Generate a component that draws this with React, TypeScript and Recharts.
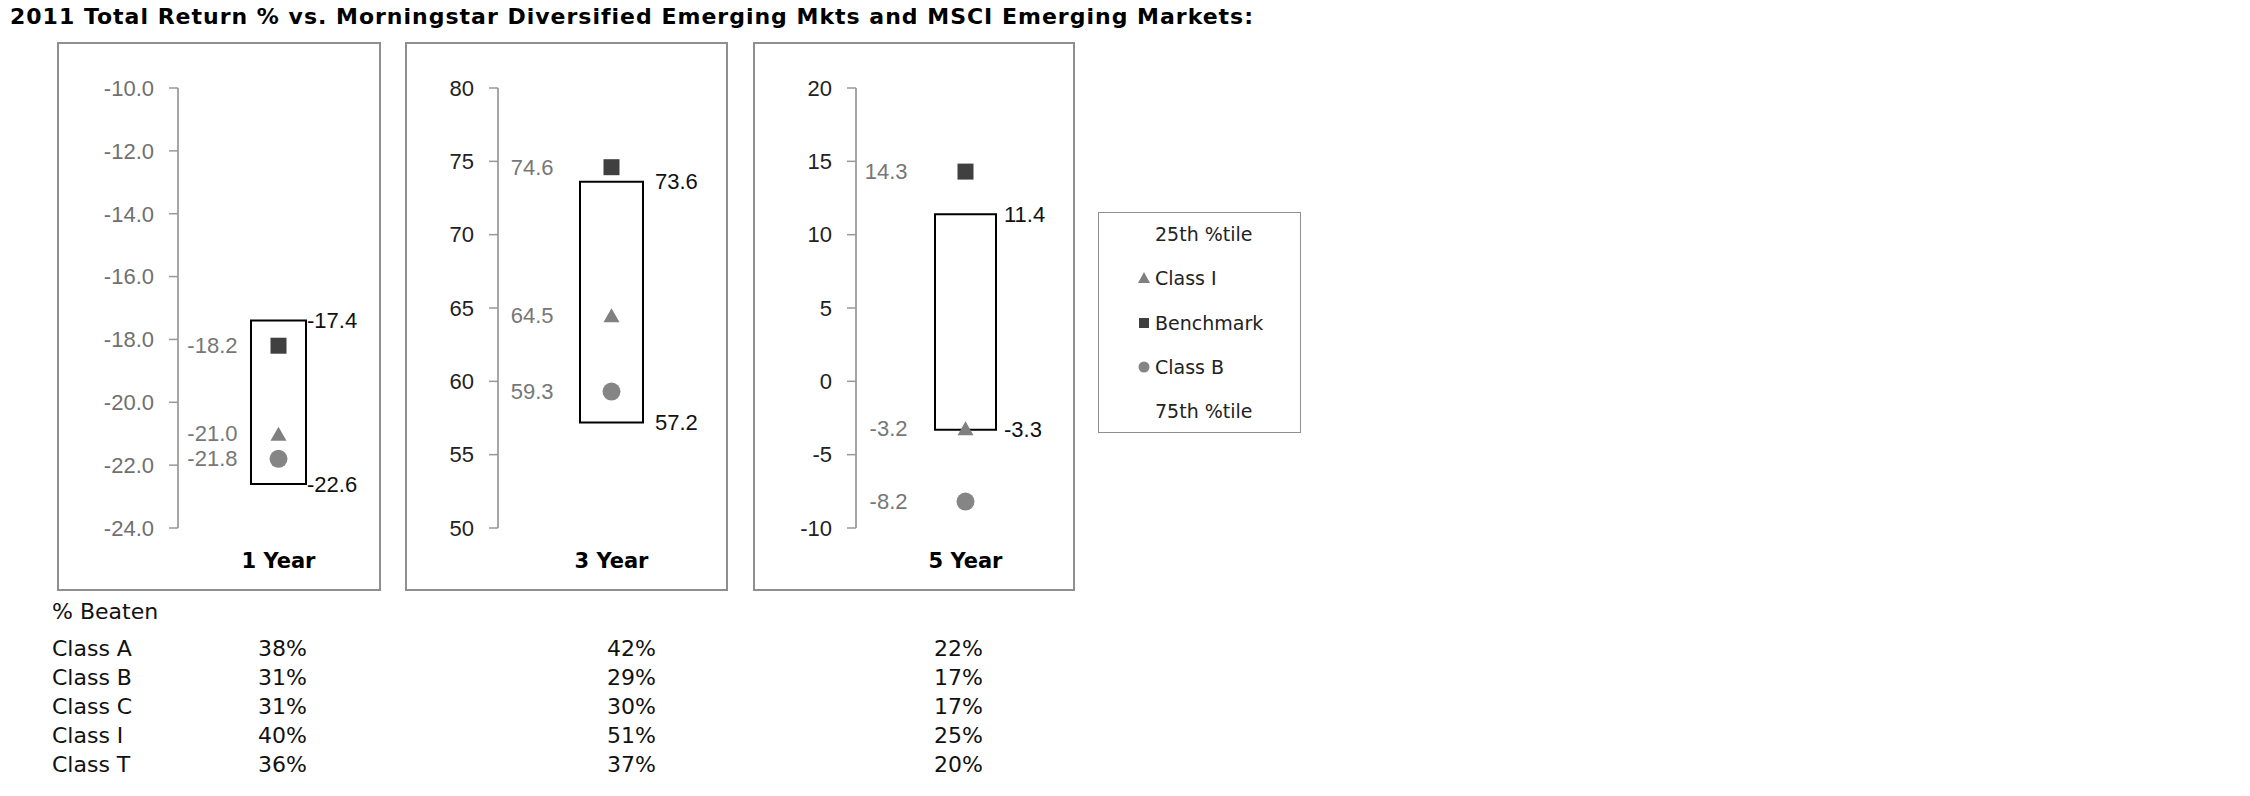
import React from 'react';
import { ComposedChart, Bar, Scatter, XAxis, YAxis, LabelList } from 'recharts';

// values
const periods = ['1 Year', '3 Year', '5 Year'];
const pct25 = [-17.4, 73.6, 11.4];
const pct75 = [-22.6, 57.2, -3.3];
const classI = [-21.0, 64.5, -3.2];
const benchmark = [-18.2, 74.6, 14.3];
const classB = [-21.8, 59.3, -8.2];
const yDomains: [number, number][] = [[-24, -10], [50, 80], [-10, 20]];
const yTicks = [
  [-24, -22, -20, -18, -16, -14, -12, -10],
  [50, 55, 60, 65, 70, 75, 80],
  [-10, -5, 0, 5, 10, 15, 20],
];
const tickDecimals = [1, 0, 0];

const shareClasses = ['Class A', 'Class B', 'Class C', 'Class I', 'Class T'];
const beaten1 = ['38%', '31%', '31%', '40%', '36%'];
const beaten3 = ['42%', '29%', '30%', '51%', '37%'];
const beaten5 = ['22%', '17%', '17%', '25%', '20%'];

const legendItems = ['25th %tile', 'Class I', 'Benchmark', 'Class B', '75th %tile'];

const TITLE = '2011 Total Return % vs. Morningstar Diversified Emerging Mkts and MSCI Emerging Markets:';

const NUM_FONT = '"Liberation Sans", Arial, sans-serif';
const NUM_SIZE = 22;
const VERDANA = '"DejaVu Sans", Verdana, sans-serif';

const PANEL_TOP = 42;
const PANEL_H = 549;
const panels = [
  { left: 57, width: 324, axisW: 121, right: 2, barSize: 55, labelGap: 41, edgeGap: 1, tickColor: '#707070' },
  { left: 405, width: 323, axisW: 93, right: 3, barSize: 63, labelGap: 58, edgeGap: 12, tickColor: '#222' },
  { left: 753, width: 322, axisW: 103, right: 0, barSize: 61, labelGap: 58, edgeGap: 8, tickColor: '#222' },
];

const SquareDot = (p: any) => (
  <rect x={p.cx - 8} y={p.cy - 8} width={16} height={16} fill="#404040" />
);
const TriangleDot = (p: any) => (
  <polygon
    points={`${p.cx},${p.cy - 7} ${p.cx + 8},${p.cy + 7} ${p.cx - 8},${p.cy + 7}`}
    fill="#808080"
  />
);
const CircleDot = (p: any) => <circle cx={p.cx} cy={p.cy} r={9} fill="#858585" />;

const CategoryTick = ({ x, y, payload }: any) => (
  <text
    x={x}
    y={y + 33}
    textAnchor="middle"
    dominantBaseline="central"
    fontFamily={VERDANA}
    fontWeight="bold"
    fontSize={21}
    fill="#000"
  >
    {payload.value}
  </text>
);

function Panel({ i }: { i: number }) {
  const p = panels[i];
  const data = [
    {
      period: periods[i],
      range: [pct75[i], pct25[i]],
      classI: classI[i],
      benchmark: benchmark[i],
      classB: classB[i],
    },
  ];

  const leftLabel = (props: any) => {
    const x = Number(props.x);
    const y = Number(props.y);
    const w = Number(props.width) || 0;
    const h = Number(props.height) || 0;
    return (
      <text
        x={x + w / 2 - p.labelGap}
        y={y + h / 2}
        textAnchor="end"
        dominantBaseline="central"
        fill="#777"
        fontSize={NUM_SIZE}
        fontFamily={NUM_FONT}
      >
        {Number(props.value).toFixed(1)}
      </text>
    );
  };

  const rangeLabels = (props: any) => {
    const x = Number(props.x);
    const y = Number(props.y);
    const w = Number(props.width);
    const h = Number(props.height);
    const top = Math.min(y, y + h);
    const bottom = Math.max(y, y + h);
    const tx = x + w + p.edgeGap;
    const common = {
      x: tx,
      textAnchor: 'start' as const,
      dominantBaseline: 'central' as const,
      fill: '#111',
      fontSize: NUM_SIZE,
      fontFamily: NUM_FONT,
    };
    return (
      <g>
        <text {...common} y={top}>{pct25[i].toFixed(1)}</text>
        <text {...common} y={bottom}>{pct75[i].toFixed(1)}</text>
      </g>
    );
  };

  return (
    <div style={{ position: 'absolute', left: p.left, top: PANEL_TOP, width: p.width, height: PANEL_H }}>
      <ComposedChart
        width={p.width}
        height={PANEL_H}
        data={data}
        margin={{ top: 46, right: p.right, bottom: 0, left: 0 }}
      >
        <XAxis
          dataKey="period"
          type="category"
          axisLine={false}
          tickLine={false}
          tickSize={0}
          tickMargin={0}
          height={63}
          tick={<CategoryTick />}
        />
        <YAxis
          type="number"
          domain={yDomains[i]}
          ticks={yTicks[i]}
          interval={0}
          allowDataOverflow
          width={p.axisW}
          tickSize={9}
          tickMargin={15}
          tickFormatter={(v: number) => v.toFixed(tickDecimals[i])}
          axisLine={{ stroke: '#888', strokeWidth: 1.5 }}
          tickLine={{ stroke: '#999', strokeWidth: 1.5 }}
          tick={{ fill: p.tickColor, fontSize: NUM_SIZE, fontFamily: NUM_FONT }}
        />
        <Bar
          dataKey="range"
          fill="#fff"
          stroke="#000"
          strokeWidth={2}
          barSize={p.barSize}
          isAnimationActive={false}
        >
          <LabelList dataKey="range" content={rangeLabels} />
        </Bar>
        <Scatter dataKey="benchmark" shape={SquareDot} isAnimationActive={false}>
          <LabelList dataKey="benchmark" content={leftLabel} />
        </Scatter>
        <Scatter dataKey="classI" shape={TriangleDot} isAnimationActive={false}>
          <LabelList dataKey="classI" content={leftLabel} />
        </Scatter>
        <Scatter dataKey="classB" shape={CircleDot} isAnimationActive={false}>
          <LabelList dataKey="classB" content={leftLabel} />
        </Scatter>
      </ComposedChart>
      <div
        style={{
          position: 'absolute',
          inset: 0,
          border: '2px solid #8f8f8f',
          boxSizing: 'border-box',
          pointerEvents: 'none',
        }}
      />
    </div>
  );
}

function LegendMarker({ idx }: { idx: number }) {
  if (idx === 1)
    return (
      <svg width={14} height={14} style={{ position: 'absolute', left: 1137, top: -7 }}>
        <polygon points="7,1 13,12 1,12" fill="#808080" />
      </svg>
    );
  if (idx === 2)
    return (
      <svg width={14} height={14} style={{ position: 'absolute', left: 1137, top: -7 }}>
        <rect x={2} y={2} width={10} height={10} fill="#404040" />
      </svg>
    );
  if (idx === 3)
    return (
      <svg width={14} height={14} style={{ position: 'absolute', left: 1137, top: -7 }}>
        <circle cx={7} cy={7} r={5.5} fill="#858585" />
      </svg>
    );
  return null;
}

export default function App() {
  const text = (s: string, left: number, cy: number, size: number, extra: any = {}) => (
    <div
      key={`${s}-${left}-${cy}`}
      style={{
        position: 'absolute',
        left,
        top: cy - 14,
        lineHeight: '28px',
        fontSize: size,
        fontFamily: VERDANA,
        color: '#111',
        whiteSpace: 'nowrap',
        ...extra,
      }}
    >
      {s}
    </div>
  );

  return (
    <div style={{ position: 'absolute', left: 0, top: 0, width: 2250, height: 796, background: '#fff', overflow: 'hidden' }}>
      {text(TITLE, 10, 17, 22, { fontWeight: 'bold', color: '#000', letterSpacing: '1px' })}

      {periods.map((_, i) => (
        <Panel key={i} i={i} />
      ))}

      {/* legend box */}
      <div
        style={{
          position: 'absolute',
          left: 1098,
          top: 212,
          width: 203,
          height: 221,
          border: '1.5px solid #8f8f8f',
          boxSizing: 'border-box',
        }}
      />
      {legendItems.map((s, k) => {
        const cy = 234 + k * 44.25;
        return (
          <div key={s} style={{ position: 'absolute', left: 0, top: cy }}>
            <LegendMarker idx={k} />
            {text(s, 1155, 0, 19, { color: '#222' })}
          </div>
        );
      })}

      {/* % beaten table */}
      {text('% Beaten', 52, 612, 22)}
      {shareClasses.map((c, r) => {
        const cy = 649 + r * 29;
        return (
          <React.Fragment key={c}>
            {text(c, 52, cy, 22)}
            {text(beaten1[r], 258, cy, 22)}
            {text(beaten3[r], 607, cy, 22)}
            {text(beaten5[r], 934, cy, 22)}
          </React.Fragment>
        );
      })}
    </div>
  );
}
